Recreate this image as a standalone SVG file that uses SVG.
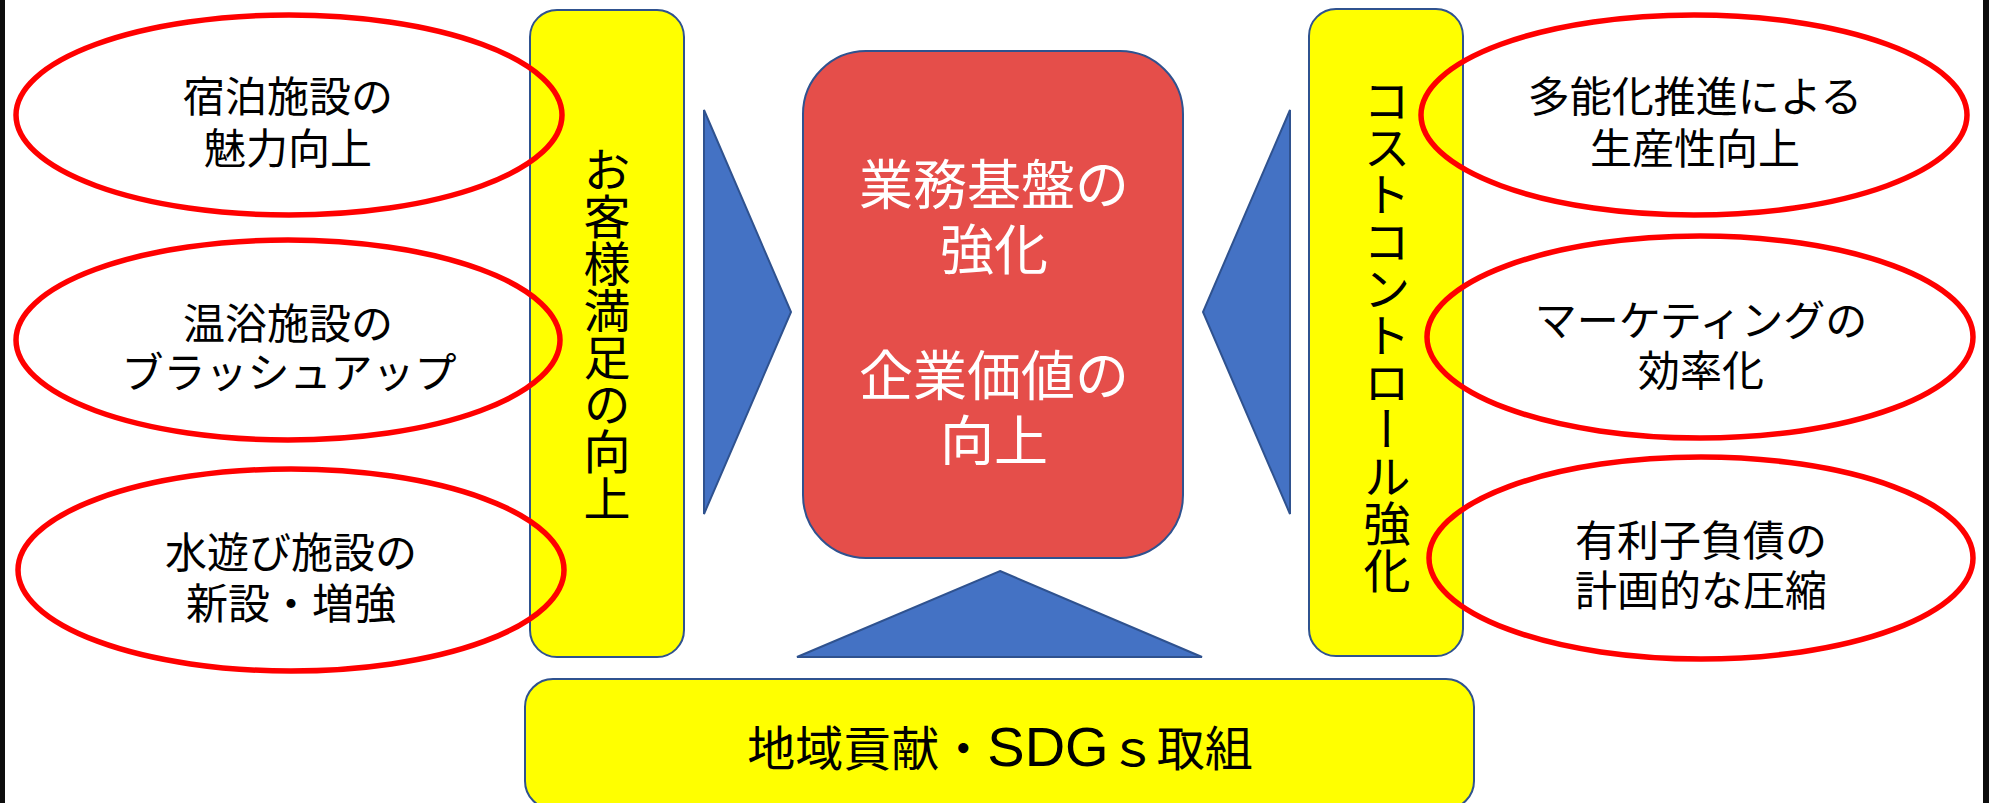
<svg xmlns="http://www.w3.org/2000/svg" width="1989" height="803" viewBox="0 0 1989 803">
<style>
.bg{fill:#ffffff}
.edge{fill:#0d0d0d}
.ybox{fill:#ffff00;stroke:#2f528f;stroke-width:2}
.rbox{fill:#e54e4a;stroke:#2f528f;stroke-width:2}
.tri{fill:#4472c4;stroke:#2f528f;stroke-width:2}
.ell{fill:none;stroke:#ff0000;stroke-width:5.5}
.t{font-family:"Noto Sans CJK JP","Noto Sans CJK SC",sans-serif;fill:#000000;text-anchor:middle;dominant-baseline:central}
.e{font-size:42px}
.c{font-size:54px;fill:#ffffff}
.v{font-size:47px;writing-mode:vertical-rl;text-orientation:upright}
</style>
<rect class="bg" x="0" y="0" width="1989" height="803"/>
<rect class="edge" x="0" y="0" width="5" height="803"/>
<rect class="edge" x="1983" y="0" width="6" height="803"/>

<g id="connectors">
<polygon class="tri" points="704,110 791,312 704,514"/>
<polygon class="tri" points="1290,110 1203,312 1290,514"/>
<polygon class="tri" points="1000,571 1202,657 797,657"/>
</g>

<g id="node-core">
<rect class="rbox" x="803" y="51" width="380" height="507" rx="63" ry="63"/>
<text class="t c" x="994" y="181">業務基盤の</text>
<text class="t c" x="994" y="246">強化</text>
<text class="t c" x="994" y="372">企業価値の</text>
<text class="t c" x="994" y="437">向上</text>
</g>

<g id="node-customer">
<rect class="ybox" x="530" y="10" width="154" height="647" rx="27" ry="27"/>
<text class="t v" x="607" y="334">お客様満足の向上</text>
</g>

<g id="node-cost">
<rect class="ybox" x="1309" y="9" width="154" height="647" rx="27" ry="27"/>
<text class="t v" x="1387" y="335">コストコントロール強化</text>
</g>

<g id="node-community">
<rect class="ybox" x="525" y="679" width="949" height="130" rx="28" ry="28"/>
<text x="1000" y="766" style="font-family:'Noto Sans CJK JP','Noto Sans CJK SC',sans-serif;font-size:48px;text-anchor:middle;fill:#000000">地域貢献・<tspan style="font-family:'Liberation Sans',sans-serif;font-size:56px">SDG</tspan>ｓ取組</text>
</g>

<g id="node-lodging">
<ellipse class="ell" cx="289" cy="115" rx="273" ry="100"/>
<text class="t e" x="288" y="93">宿泊施設の</text>
<text class="t e" x="288" y="145">魅力向上</text>
</g>

<g id="node-bath">
<ellipse class="ell" cx="288" cy="340" rx="272" ry="100"/>
<text class="t e" x="288" y="320">温浴施設の</text>
<text class="t e" x="289" y="369">ブラッシュアップ</text>
</g>

<g id="node-water">
<ellipse class="ell" cx="291" cy="570" rx="273" ry="101"/>
<text class="t e" x="291" y="549">水遊び施設の</text>
<text class="t e" x="291" y="600">新設・増強</text>
</g>

<g id="node-multiskill">
<ellipse class="ell" cx="1694" cy="115" rx="273" ry="100"/>
<text class="t e" x="1695" y="93">多能化推進による</text>
<text class="t e" x="1695" y="145">生産性向上</text>
</g>

<g id="node-marketing">
<ellipse class="ell" cx="1700" cy="337" rx="273" ry="101"/>
<text class="t e" x="1701" y="317">マーケティングの</text>
<text class="t e" x="1701" y="367">効率化</text>
</g>

<g id="node-debt">
<ellipse class="ell" cx="1701" cy="558" rx="272" ry="101"/>
<text class="t e" x="1701" y="537">有利子負債の</text>
<text class="t e" x="1701" y="587">計画的な圧縮</text>
</g>
</svg>
